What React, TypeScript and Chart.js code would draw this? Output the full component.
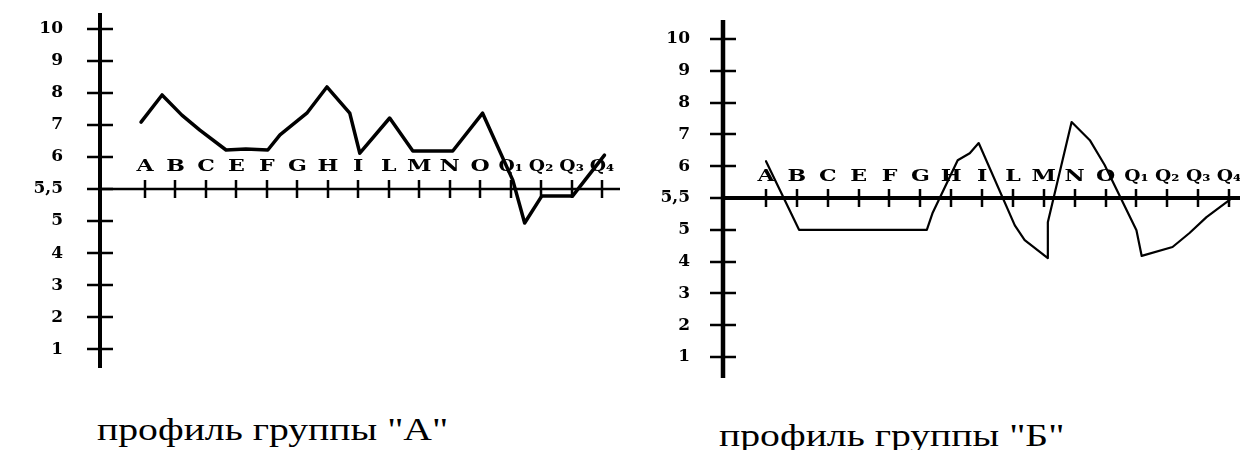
import React, { useEffect, useRef } from "react";
import { Chart, registerables } from "chart.js";

Chart.register(...registerables);

// ---- data ----
const factorLabels = ["A", "B", "C", "E", "F", "G", "H", "I", "L", "M", "N", "O", "Q₁", "Q₂", "Q₃", "Q₄"];
const yTickPositions = [1, 2, 3, 4, 5, 6, 7, 8, 9, 10, 11];
const yTickLabels = ["1", "2", "3", "4", "5", "5,5", "6", "7", "8", "9", "10"];

// group "А": position along the factor axis (factor index) and score
const groupAPos = [-0.13, 0.56, 1.21, 1.8, 2.66, 3.31, 4.03, 4.43, 5.31, 5.97, 6.72, 7.05, 8.03, 8.79, 10.1, 11.08, 12.07, 12.46, 13.02, 14.03, 15.08];
const groupAScores = [7.09, 7.94, 7.31, 6.84, 6.22, 6.25, 6.22, 6.69, 7.37, 8.19, 7.37, 6.12, 7.22, 6.19, 6.19, 7.37, 5.64, 4.94, 5.39, 5.39, 6.06];

// group "Б"
const groupBPos = [0, 1.07, 5.21, 5.4, 6.21, 6.6, 6.89, 8.06, 8.38, 9.13, 9.13, 9.9, 10.49, 10.97, 12.0, 12.17, 13.17, 13.72, 14.27, 15.02];
const groupBScores = [6.16, 5.0, 5.0, 5.27, 6.19, 6.41, 6.73, 5.07, 4.68, 4.11, 5.12, 7.39, 6.82, 6.04, 4.99, 4.18, 4.46, 4.9, 5.2, 5.47];

const captionA = 'профиль группы "А"';
const captionB = 'профиль группы "Б"';

// The printed scale gives "5,5" its own full step between 5 and 6.
function toAxis(v: number): number {
  if (v >= 6) return v + 1;
  if (v >= 5) return 5 + 2 * (v - 5);
  return v;
}

type Layout = {
  axisWidth: number;
  labelPad: number;
  xMin: number;
  xMax: number;
  yMin: number;
  yMax: number;
  padTop: number;
  padBottom: number;
  lineWidth: number;
  yAxisLine: number;
  xAxisLine: number;
  labelGap: number;
};

const crossAxesPlugin = {
  id: "crossAxes",
  beforeDatasetsDraw(chart: any, _args: any, opts: any) {
    const { ctx, chartArea } = chart;
    const x = chart.scales.x;
    const y = chart.scales.y;
    const x0 = chartArea.left;
    const yMid = y.getPixelForValue(toAxis(5.5));
    ctx.save();
    ctx.strokeStyle = "#000";
    ctx.fillStyle = "#000";
    ctx.lineCap = "butt";
    // vertical axis
    ctx.lineWidth = opts.yAxisLine;
    ctx.beginPath();
    ctx.moveTo(x0, chartArea.top);
    ctx.lineTo(x0, chartArea.bottom);
    ctx.stroke();
    // vertical axis ticks (crossing)
    ctx.lineWidth = 2.5;
    ctx.beginPath();
    for (const p of yTickPositions) {
      const py = Math.round(y.getPixelForValue(p));
      ctx.moveTo(x0 - 13, py);
      ctx.lineTo(x0 + 13, py);
    }
    ctx.stroke();
    // horizontal axis at 5,5
    ctx.lineWidth = opts.xAxisLine;
    ctx.beginPath();
    ctx.moveTo(x0, yMid);
    ctx.lineTo(chartArea.right + 5, yMid);
    ctx.stroke();
    // horizontal axis ticks
    ctx.lineWidth = 2.5;
    ctx.beginPath();
    factorLabels.forEach((_l, i) => {
      const px = Math.round(x.getPixelForValue(i));
      ctx.moveTo(px, yMid - 9);
      ctx.lineTo(px, yMid + 9);
    });
    ctx.stroke();
    // factor letters above the axis
    ctx.font = 'bold 17px "DejaVu Serif"';
    ctx.textAlign = "center";
    ctx.textBaseline = "alphabetic";
    factorLabels.forEach((l, i) => {
      const px = x.getPixelForValue(i);
      ctx.save();
      ctx.translate(px, yMid - opts.labelGap);
      ctx.scale(l.length > 1 ? 1.1 : 1.3, 1);
      ctx.fillText(l, 0, 0);
      ctx.restore();
    });
    ctx.restore();
  },
};

function ProfileChart({ pos, scores, layout }: { pos: number[]; scores: number[]; layout: Layout }) {
  const ref = useRef<HTMLCanvasElement | null>(null);
  useEffect(() => {
    if (!ref.current) return;
    const points = pos.map((p, i) => ({ x: p, y: toAxis(scores[i]) }));
    const chart = new Chart(ref.current, {
      type: "line",
      data: {
        datasets: [
          {
            data: points,
            borderColor: "#000",
            borderWidth: layout.lineWidth,
            pointRadius: 0,
            tension: 0,
            fill: false,
            borderJoinStyle: "round",
            borderCapStyle: "round",
          },
        ],
      },
      options: {
        animation: false,
        responsive: true,
        maintainAspectRatio: false,
        layout: { padding: { top: layout.padTop, bottom: layout.padBottom, left: 0, right: 0 } },
        plugins: {
          legend: { display: false },
          tooltip: { enabled: false },
          crossAxes: {
            yAxisLine: layout.yAxisLine,
            xAxisLine: layout.xAxisLine,
            labelGap: layout.labelGap,
          },
        } as any,
        scales: {
          x: {
            type: "linear",
            min: layout.xMin,
            max: layout.xMax,
            display: false,
          },
          y: {
            type: "linear",
            min: layout.yMin,
            max: layout.yMax,
            grid: { display: false, drawTicks: false },
            border: { display: false },
            afterBuildTicks: (scale: any) => {
              scale.ticks = yTickPositions.map((v) => ({ value: v }));
            },
            afterFit: (scale: any) => {
              scale.width = layout.axisWidth;
              scale.paddingTop = 0;
              scale.paddingBottom = 0;
            },
            ticks: {
              padding: layout.labelPad,
              color: "#000",
              font: { family: "DejaVu Serif", weight: "bold", size: 17 },
              callback: (v: any) => {
                const idx = yTickPositions.indexOf(Number(v));
                return idx >= 0 ? yTickLabels[idx] : "";
              },
            },
          },
        },
      },
      plugins: [crossAxesPlugin],
    });
    return () => chart.destroy();
  }, [pos, scores, layout]);
  return (
    <div style={{ position: "relative", width: 620, height: 400 }}>
      <canvas ref={ref} />
    </div>
  );
}

const layoutA: Layout = {
  axisWidth: 100,
  labelPad: 37,
  xMin: (100 - 145) / 30.47,
  xMax: (620 - 145) / 30.47,
  yMin: 0.41,
  yMax: 11.5,
  padTop: 13,
  padBottom: 32,
  lineWidth: 3.5,
  yAxisLine: 4,
  xAxisLine: 2.5,
  labelGap: 18,
};

const layoutB: Layout = {
  axisWidth: 103,
  labelPad: 33,
  xMin: (103 - 146) / 30.87,
  xMax: (620 - 146) / 30.87,
  yMin: 0.34,
  yMax: 11.6,
  padTop: 20,
  padBottom: 22,
  lineWidth: 2.2,
  yAxisLine: 4.5,
  xAxisLine: 4,
  labelGap: 17,
};

const captionStyle: React.CSSProperties = {
  position: "absolute",
  fontFamily: '"Liberation Serif", "Times New Roman", serif',
  fontSize: 32,
  lineHeight: "32px",
  whiteSpace: "nowrap",
  color: "#000",
  transform: "scaleX(1.24)",
  transformOrigin: "left top",
};

export default function App() {
  return (
    <div
      style={{
        position: "fixed",
        left: 0,
        top: 0,
        width: 1240,
        height: 450,
        overflow: "hidden",
        background: "#fff",
      }}
    >
      <div style={{ position: "absolute", left: 0, top: 0 }}>
        <ProfileChart pos={groupAPos} scores={groupAScores} layout={layoutA} />
      </div>
      <div style={{ position: "absolute", left: 620, top: 0 }}>
        <ProfileChart pos={groupBPos} scores={groupBScores} layout={layoutB} />
      </div>
      <div style={{ ...captionStyle, left: 97, top: 413 }}>{captionA}</div>
      <div style={{ ...captionStyle, left: 719, top: 419 }}>{captionB}</div>
    </div>
  );
}
